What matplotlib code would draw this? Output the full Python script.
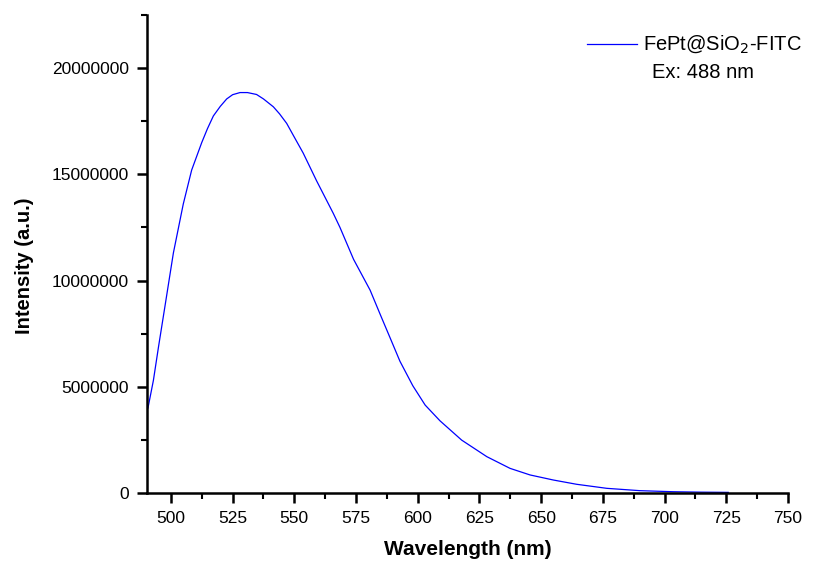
import matplotlib
matplotlib.use('Agg')
import matplotlib.pyplot as plt
from matplotlib.ticker import MultipleLocator
from matplotlib.lines import Line2D

# emission spectrum
wavelength = [490.7, 492.9, 495.0, 497.6, 501.0, 505.0, 508.4, 512.5, 514.8, 517.2,
              520.0, 522.6, 525.0, 528.0, 531.0, 534.7, 537.5, 541.5, 544.0, 546.9,
              550.0, 553.6, 559.0, 565.8, 568.5, 574.0, 580.7, 585.0, 589.0, 592.8,
              598.0, 603.0, 609.0, 617.8, 628.0, 637.4, 645.5, 655.0, 664.4, 676.6,
              690.0, 703.6, 715.0, 725.8]
intensity = [4.0e6, 5.3e6, 6.9e6, 8.8e6, 11.3e6, 13.6e6, 15.2e6, 16.5e6, 17.15e6, 17.75e6,
             18.2e6, 18.55e6, 18.75e6, 18.85e6, 18.85e6, 18.76e6, 18.55e6, 18.18e6, 17.85e6, 17.4e6,
             16.75e6, 16.0e6, 14.7e6, 13.16e6, 12.5e6, 11.0e6, 9.55e6, 8.35e6, 7.25e6, 6.2e6,
             5.05e6, 4.14e6, 3.4e6, 2.49e6, 1.71e6, 1.16e6, 0.85e6, 0.61e6, 0.41e6, 0.22e6,
             0.11e6, 0.06e6, 0.04e6, 0.03e6]

x_ticks = [500, 525, 550, 575, 600, 625, 650, 675, 700, 725, 750]
y_ticks = [0, 5000000, 10000000, 15000000, 20000000]

plt.rcParams['font.family'] = ['Liberation Sans', 'DejaVu Sans']

fig = plt.figure(figsize=(8.22, 5.67), dpi=100)
ax = fig.add_axes([0.1788, 0.1305, 0.7798, 0.843])

ax.plot(wavelength, intensity, color='#0000ff', lw=0.9)

ax.set_xlim(490.3, 750)
ax.set_ylim(0, 22.5e6)
ax.set_xticks(x_ticks)
ax.set_yticks(y_ticks)
ax.set_yticklabels([str(v) for v in y_ticks])
ax.xaxis.set_minor_locator(MultipleLocator(12.5))
ax.yaxis.set_minor_locator(MultipleLocator(2.5e6))

for s in ['top', 'right']:
    ax.spines[s].set_visible(False)
for s in ['left', 'bottom']:
    ax.spines[s].set_linewidth(1.8)

ax.tick_params(which='major', direction='out', length=7, width=1.8, labelsize=12.5, pad=6)
ax.tick_params(which='minor', direction='out', length=4, width=1.5)

ax.set_xlabel('Wavelength (nm)', fontsize=15, fontweight='bold', labelpad=10)
ax.set_ylabel('Intensity (a.u.)', fontsize=14.5, fontweight='bold')
ax.yaxis.set_label_coords(-0.176, 0.475)

# legend drawn by hand: line sample, label, excitation note
fig.add_artist(Line2D([587 / 822, 637 / 822], [1 - 44 / 567] * 2, color='#0000ff', lw=0.9))
fig.text(643 / 822, 1 - 44 / 567, 'FePt@SiO$_2$-FITC', fontsize=14.5, ha='left', va='center')
fig.text(652 / 822, 1 - 73 / 567, 'Ex: 488 nm', fontsize=14.5, ha='left', va='center')

fig.savefig('out.png', dpi=100)
